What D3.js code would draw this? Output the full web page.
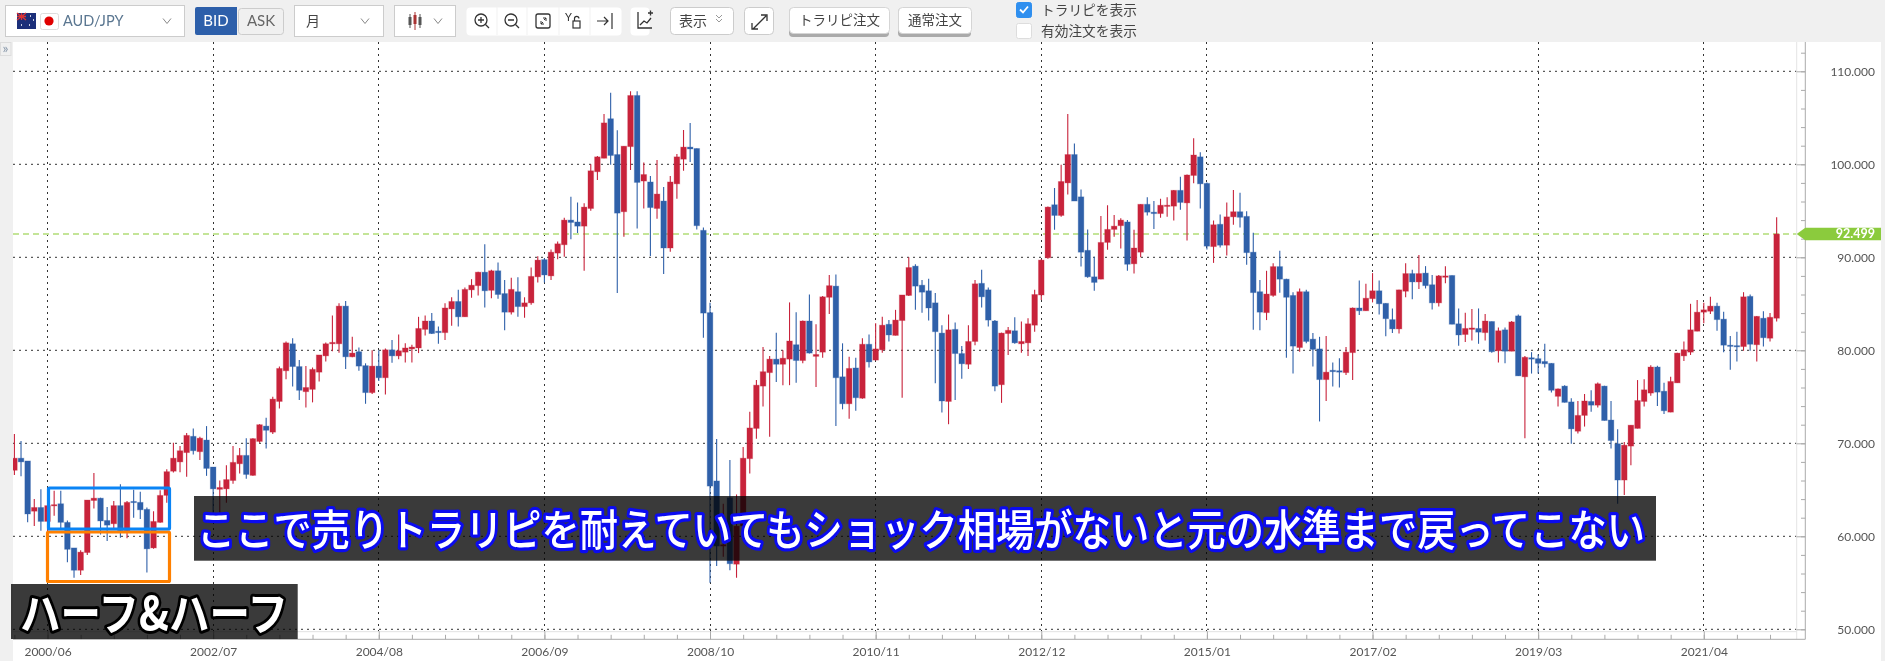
<!DOCTYPE html>
<html><head><meta charset="utf-8">
<script src="https://cdn.jsdelivr.net/npm/d3@7"></script>
<style>
html,body{margin:0;padding:0;background:#fff;overflow:hidden}
svg{display:block}
.ui{font-family:"Noto Sans CJK JP","Noto Sans",sans-serif;fill:#444}
.axis text{font-family:Lato,sans-serif;font-size:12px;fill:#555}
.axis path,.axis line{stroke:#aaa}
</style></head><body>
<svg id="c" width="1885" height="661"></svg>
<script>
const xLabels=["2000/06","2002/07","2004/08","2006/09","2008/10","2010/11","2012/12","2015/01","2017/02","2019/03","2021/04"];
const yLabels=[50,60,70,80,90,100,110];
const lastPrice=92.499;
const captionMain="ここで売りトラリピを耐えていてもショック相場がないと元の水準まで戻ってこない";
const captionSub="ハーフ&ハーフ";
// monthly candles 2000/01 - 2022/03
const opens=[67.1,68.4,68.1,62.7,63.1,61.6,63.3,63.5,61.5,58.75,56.35,58.25,63.85,64.1,61.7,61.35,63.3,60.6,63.75,63.65,62.9,58.75,61.5,64.4,67,68,69,70.75,69.1,70.35,67.45,65.05,65.1,66,67.8,68.7,66.55,70.2,71.85,71.2,74.5,77.8,80.7,78.25,75.55,75.8,77.65,79.4,80.7,80.7,84.75,79.3,79.85,78.35,75.45,78.3,77.05,80.05,79.4,79.8,80.15,80.25,82.25,83.15,82.05,81.9,84.45,85.25,83.6,86.5,86.95,88.4,86.45,88.55,86.1,84.1,86.3,84.7,85.1,87.9,89.75,88,90.45,91.35,94,93.8,93.35,95.25,99.2,100.65,104.9,101.05,94.9,101.9,107.4,98.2,98.1,95.25,96.05,91,97.9,100.55,101.85,101.7,92.9,84.05,65.95,58.95,64.15,57,61.1,68.35,71.6,76.15,77.6,79.05,78.5,79.05,80.6,78.9,83.15,79.35,79.8,85.7,86.9,77.15,74.25,78.1,74.85,80.65,78.95,80.05,82.8,81.6,83.2,85.9,89.05,87,86.4,85.1,81.85,74.5,82.25,79.65,78.5,80.95,87.2,86.5,83.15,76.3,81.8,82.1,80.7,80.8,82.7,85.95,89.95,95.65,94.5,98,101.05,96.5,90.75,87.9,87.65,91.6,93,93.4,93.8,89.3,90.55,95.7,94.85,94.7,95.5,95.5,97.2,95.85,98.8,100.8,97.95,91.15,93.55,91.3,94.35,94.9,94.4,90.55,86.3,84.05,85.9,89,87.65,85.9,80.3,86.3,81.2,80.15,76.85,77.85,77.8,77.6,79.75,84.55,84.25,85.55,86.4,85.05,83.3,82.3,86.35,88.25,87.35,88.3,87.05,85.1,87.85,88.05,82.85,81.7,82.25,82.35,81.9,83.1,79.95,82.2,79.9,83.7,77.15,79.2,79.1,78.8,78.6,75.05,76.15,74.45,71.3,73,74.5,74.1,76.15,72.5,69.95,66.05,69.7,71.6,74.5,75.4,78.2,75.6,73.35,76.5,79.4,79.8,82.05,84.1,84.2,84.75,83.35,80.55,80.5,80.4,85.8,80.6,83.45,81.3,83.45];
const highs=[71,70.25,68.1,64,65.05,63.4,64.9,64.9,61.7,58.75,58.5,63.9,66.8,64.15,63.15,63.8,65.6,63.8,65,64.8,63.1,62.7,64.95,67.2,70.05,69.7,71.1,71.6,70.7,71.85,67.45,66,67.65,69.7,69.5,70.55,70.55,72.05,72.75,75,78.25,80.95,81.3,78.95,78.3,78.15,79.5,80.85,83.75,85.05,85.3,81.45,80.3,78.6,80,80,80.2,81.1,81.7,80.75,80.6,83.6,83.75,84,82.55,85.05,85.7,86.5,86.75,87.65,88.45,91.4,88.65,89.45,87.55,87.8,87.85,85.7,88.9,90.1,89.9,90.85,91.7,94.25,96.5,95.9,95.8,100,100.9,105.4,107.7,103.65,101.95,107.85,107.85,100.2,98.75,100.45,97.55,98.75,101.1,103.7,104.45,101.7,93.2,85.1,70.45,63.5,68.2,64.5,69.6,73.4,76.8,80.35,79.4,81.9,80,85.15,84.1,83.2,86,82.8,85.85,88.1,88.15,80.75,79.3,79.2,81.3,81.7,82.9,83.6,83.25,84.35,85.95,90,89.25,87.55,87.7,86.15,82.7,83.85,83,80.45,82.7,87.55,88.65,86.75,83.25,81.9,82.5,83.55,83.1,83.45,86.5,89.8,95.45,97.45,99.95,105.4,102.25,97.3,93,90.05,94.45,95.6,94.55,94.2,94,92.95,95.7,96.45,96.05,96.3,96.45,97.25,98.65,98.9,102.8,101.3,98.05,93.95,94.6,95.9,97.25,96.95,94.95,92.65,87.55,88.55,89.35,90.7,87.7,86.25,86.65,86.5,81.85,81.45,81.55,78.7,79.15,80.35,84.6,87.5,87.15,88.3,87.5,85.05,84.5,86.5,89.35,88.65,90.25,89.05,88.1,88.1,89.05,88.05,84.5,84.05,84.45,84.5,83.9,83.1,82.45,82.45,83.15,83.85,79.4,79.8,79.55,80.7,78.6,75.9,76.25,74.85,74.55,75.3,75.7,76.55,76.2,74.55,71.5,70.15,71.95,76.8,76.9,78.4,78.35,76.5,77.15,79.75,80.95,85,85.4,85.1,85.75,85.1,84.15,81.55,82,86.25,86,83.7,84.2,84,94.3];
const lows=[66.6,66.45,61.5,61.1,60.6,60.5,62.2,60.75,57.2,55.55,55.85,58,63,60.2,59.5,60.75,59.85,59.8,62,61.85,56.1,58.65,61.45,63.6,66.85,66.9,66.4,68.8,68.2,66.5,62.4,62.55,63.6,65.65,66.75,66.2,66.5,70.05,69.45,71,73.75,76.9,76.1,74.65,73.85,74.4,76.65,78.8,79.9,79.75,78,79.25,77.8,74.25,75.3,76.7,75.25,78.65,79.05,78.7,78.7,79.7,81.6,81.75,80.7,81.1,82.65,82.55,83.6,85.65,85.9,84.6,85.6,85.55,82.15,83.85,83.6,83.5,84.9,87.3,87.3,87.55,89.8,90.05,91.95,92.6,88.55,95,98.3,100.65,99.95,86.15,92.2,99.4,93.1,95.25,90.15,94.15,88.2,90.6,96.3,99.3,100.25,93,81.35,55,56.8,57.8,56.35,55.55,61.1,66.75,70.5,73.95,70.7,76.6,76.25,76.25,76.5,78.6,79.65,76.05,79.2,83.9,71.85,73.65,72.65,73.5,74.8,78.15,78.9,79.75,80.95,81.6,74.9,85.85,84.35,84.05,83.2,76.45,73.3,72.05,74.65,76.95,78,80.55,84.6,82.55,75.6,74.35,79.5,80.7,79.75,79.4,82,85.4,89.85,92.95,94.35,96.75,96.05,89,87.8,86.4,87.65,90.8,92.2,90.95,88.55,88.25,90,94.5,93.05,94.25,94.35,93.95,95.1,91.8,97.95,95.25,90.85,89.4,91.05,90.2,93.5,93.2,89.2,82.2,82.15,83.25,85.75,86.2,79.2,77.5,79.85,80.75,78.25,72.35,74.55,76.1,76,77.35,76.8,83.8,84.25,85.15,83.85,81.5,81.85,81.8,85.7,85.5,86.6,86.65,84.4,84.7,87.2,82.8,80.5,80.9,81.05,80.7,81.05,79.75,78.7,78.6,79.9,77.25,70.55,77.5,77.5,78.15,75.45,73.95,74.4,69.95,71.05,71.8,73.4,73.85,72.45,69.45,63.5,64.45,67.65,71.6,73.95,75.1,74,73.15,73.35,76.5,78.85,79.5,82.05,82.9,83.9,82.1,79.8,77.9,78.8,79.95,79.95,78.8,80.4,80.95,83.1];
const closes=[68.4,68,62.4,63.1,61.6,63.3,63.4,61.5,58.6,56.35,58.3,63.9,64.1,61.65,61.2,63.3,60.6,63.65,63.65,62.85,58.65,61.6,64.4,66.95,68.4,69.2,70.85,69.2,70.55,67.3,65.1,65.25,66.1,67.95,68.7,66.65,70.5,72,71.4,74.75,78.05,80.8,78.25,75.7,76,77.95,79.5,80.7,80.85,84.75,79.3,79.7,78.3,75.45,78.3,77.05,80.05,79.4,79.95,80.25,80.35,82.35,83.15,81.8,81.9,84.55,85.25,83.6,86.55,87,88.4,86.4,88.55,86,84.1,86.55,84.7,85.1,87.95,89.7,88.1,90.55,91.45,94,93.75,93.35,95.4,99.3,100.8,104.45,100.95,94.75,101.95,107.4,98.05,98.9,95.35,96.8,91,98.1,100.8,101.85,101.65,93.4,84,65.4,58.95,59.1,57.05,61.1,68.4,71.65,76.25,77.7,79.05,78.5,79.15,81,78.9,83.15,79.7,79.55,85.75,86.95,77.05,74.25,78.05,74.9,80.65,78.75,80.15,82.7,81.65,83.25,85.95,88.9,86.9,86.25,84.55,82,74.55,82.2,79.65,78.55,80.95,87.15,85.75,83.25,76.15,81.85,82.15,80.8,80.95,82.85,86,89.7,95.4,94.5,98.15,101.05,96.05,90.55,87.9,87.3,91.6,93,93.35,94,89.25,91,95.7,94.85,94.7,95.6,95.6,97.2,95.9,98.85,101,97.9,91.2,93.5,91.3,94.35,94.9,94.3,90.5,86.2,84.1,86.05,89,87.65,85.7,80.45,86.3,80.95,80.1,76.85,77.65,77.7,77.65,79.8,84.55,84.25,85.6,86.4,85,83.4,82.3,86.5,88.25,87.35,88.25,86.95,85.1,88,88,82.8,81.65,82.35,82.4,81.95,83.15,79.85,82.1,79.9,83.05,77.25,79.25,79.05,78.6,78.55,75.7,75.85,74.4,71.55,73,74.55,74.1,76.4,72.45,70.3,66.05,69.8,71.95,74.6,75.75,78.2,75.5,73.5,76.65,79.7,80.05,82.2,84.1,84.35,84.75,83.3,80.55,80.45,80.4,85.75,80.65,83.65,81.35,83.55,92.499];

const W=1885,H=661,L=13,R=1796.7,T=42,AX=639.3;
const svg=d3.select("#c");
const x=d3.scaleLinear().domain([0,266]).range([14.4,1776.65]);
const y=d3.scaleLinear().domain([50,110]).range([629.3,71.3]);
const majorIdx=xLabels.map((_,i)=>5+i*25);
const minorIdx=d3.range(0,266,5);

// page
svg.append("rect").attr("width",W).attr("height",H).attr("fill","#fff");
svg.append("rect").attr("width",W).attr("height",T).attr("fill","#f0f0f0");
svg.append("rect").attr("y",T).attr("width",L).attr("height",H-T).attr("fill","#f0f0f0");
svg.append("rect").attr("x",1881).attr("y",T).attr("width",4).attr("height",H-T).attr("fill","#f0f0f0");
svg.append("rect").attr("x",0.5).attr("y",T+.5).attr("width",10.5).attr("height",13).attr("fill","#f0f0f0").attr("stroke","#ddd");
svg.append("text").attr("x",5.5).attr("y",T+11).attr("text-anchor","middle").attr("font-size",14).attr("fill","#8a9aac").attr("font-family","Lato").text("»");

const plot=svg.append("g");
// grid
const grid=plot.append("g").attr("stroke","#333").attr("stroke-dasharray","2 4");
grid.selectAll("line.h").data(yLabels).join("line").attr("class","h")
  .attr("x1",L).attr("x2",R).attr("y1",d=>Math.round(y(d))+.3).attr("y2",d=>Math.round(y(d))+.3);
grid.selectAll("line.v").data(majorIdx).join("line").attr("class","v")
  .attr("x1",d=>Math.round(x(d)-.5)+.5).attr("x2",d=>Math.round(x(d)-.5)+.5).attr("y1",T).attr("y2",AX-8);
// frame lines
svg.append("line").attr("x1",R).attr("x2",R).attr("y1",T).attr("y2",AX).attr("stroke","#e4e4e4");
svg.append("line").attr("x1",L).attr("x2",R).attr("y1",631.7).attr("y2",631.7).attr("stroke","#e2e2e2");
// last price line
plot.append("line").attr("x1",L).attr("x2",R).attr("y1",y(lastPrice)).attr("y2",y(lastPrice))
  .attr("stroke","#c4e598").attr("stroke-width",2).attr("stroke-dasharray","6 4");

// candles
svg.append("clipPath").attr("id","pc").append("rect").attr("x",L).attr("y",T).attr("width",R-L).attr("height",AX-T);
const RED="#c8233b",BLUE="#2f60a9",data=d3.range(opens.length);
const col=i=>closes[i]>=opens[i]?RED:BLUE;
const cg=plot.append("g").attr("clip-path","url(#pc)");
cg.selectAll("line.w").data(data).join("line").attr("class","w")
  .attr("x1",x).attr("x2",x).attr("y1",i=>y(highs[i])).attr("y2",i=>y(lows[i]))
  .attr("stroke",col).attr("stroke-width",1.1);
cg.selectAll("rect.b").data(data).join("rect").attr("class","b")
  .attr("x",i=>x(i)-2.8).attr("width",5.6)
  .attr("y",i=>y(Math.max(opens[i],closes[i])))
  .attr("height",i=>Math.max(1.2,Math.abs(y(opens[i])-y(closes[i]))))
  .attr("fill",col).attr("stroke",col).attr("stroke-opacity",.3).attr("stroke-width",1);

// axes
const yMinor=d3.range(50,114,2);
const ya=svg.append("g").attr("class","axis").attr("transform","translate(1805.3,0)");
ya.call(d3.axisLeft(y).tickValues(yMinor).tickSize(4.3).tickFormat(""));
ya.select(".domain").remove();
const yb=svg.append("g").attr("class","axis").attr("transform","translate(1805.3,0)");
yb.call(d3.axisLeft(y).tickValues(yLabels).tickSize(8.6).tickFormat(""));
yb.select(".domain").remove();
const yc=svg.append("g").attr("class","axis").attr("transform","translate(1805.3,0)");
yc.call(d3.axisRight(y).tickValues(yLabels).tickSize(0).tickPadding(69.7).tickFormat(d3.format(".3f")));
yc.select(".domain").remove();
yc.selectAll("text").attr("text-anchor","end");
svg.append("line").attr("x1",1805.3).attr("x2",1805.3).attr("y1",T).attr("y2",AX).attr("stroke","#aaa");

const xa=svg.append("g").attr("class","axis").attr("transform",`translate(0,${AX})`);
xa.call(d3.axisTop(x).tickValues(minorIdx).tickSize(4.5).tickFormat(""));
xa.select(".domain").remove();
const xb=svg.append("g").attr("class","axis").attr("transform",`translate(0,${AX})`);
xb.call(d3.axisTop(x).tickValues(majorIdx).tickSize(8).tickFormat(""));
xb.select(".domain").remove();
const xc=svg.append("g").attr("class","axis").attr("transform",`translate(0,${AX})`);
xc.call(d3.axisBottom(x).tickValues(majorIdx).tickSize(0).tickPadding(8).tickFormat((d,i)=>xLabels[i]));
xc.select(".domain").remove();
svg.append("line").attr("x1",L).attr("x2",1805.3).attr("y1",AX).attr("y2",AX).attr("stroke","#aaa");

// price tag
const py=y(lastPrice);
svg.append("polygon").attr("fill","#8bcb3d")
  .attr("points",[[R,py],[1805.3,py-6.3],[1881,py-6.3],[1881,py+6.3],[1805.3,py+6.3]].join(" "));
svg.append("text").attr("x",1875).attr("y",py+4.4).attr("text-anchor","end").attr("font-family","Lato")
  .attr("font-size",12.5).attr("font-weight",700).attr("fill","#fff").text(d3.format(".3f")(lastPrice));

// overlays
svg.append("rect").attr("x",47.5).attr("y",532).attr("width",122).attr("height",49.5).attr("rx",1).attr("fill","none").attr("stroke","#ff8000").attr("stroke-width",3.2);
svg.append("rect").attr("x",48.5).attr("y",488).attr("width",121).attr("height",41).attr("rx",1).attr("fill","none").attr("stroke","#0a84f5").attr("stroke-width",3.2);
svg.append("rect").attr("x",194).attr("y",496).attr("width",1462).attr("height",64.7).attr("fill","#3a3a3a").style("mix-blend-mode","multiply");
svg.append("rect").attr("x",11).attr("y",584).attr("width",286.7).attr("height",55).attr("fill","#3a3a3a").style("mix-blend-mode","multiply");
svg.append("text").attr("x",197).attr("y",546).attr("textLength",1448).attr("lengthAdjust","spacingAndGlyphs")
  .attr("font-family","Noto Sans CJK JP").attr("font-weight",500).attr("font-size",43).attr("fill","#fff")
  .attr("stroke","#0b0bf0").attr("stroke-width",6.5).attr("stroke-linejoin","round").attr("paint-order","stroke").text(captionMain);
svg.append("text").attr("x",20).attr("y",630).attr("textLength",268).attr("lengthAdjust","spacingAndGlyphs")
  .attr("font-family","Noto Sans CJK JP").attr("font-weight",700).attr("font-size",46).attr("fill","#fff")
  .attr("stroke","#000").attr("stroke-width",6).attr("stroke-linejoin","round").attr("paint-order","stroke").text(captionSub);

// toolbar
const ui=svg.append("g");
const box=(a,b,w,h,o={})=>ui.append("rect").attr("x",a+.5).attr("y",b+.5).attr("width",w).attr("height",h).attr("rx",o.r||0)
  .attr("fill",o.f||"#fff").attr("stroke",o.s||"#ccc").attr("stroke-width",o.sw===undefined?1:o.sw);
const label=(t,a,b,o={})=>ui.append("text").attr("class","ui").attr("x",a).attr("y",b).attr("font-size",o.z||13)
  .attr("text-anchor",o.a||"start").style("fill",o.f||"#444").style("font-family",o.ff||null).text(t);
const chev=(a,b)=>ui.append("path").attr("d",`M${a-4} ${b-2.5}L${a} ${b+2.5}L${a+4} ${b-2.5}`).attr("fill","none").attr("stroke","#888");
box(5,5,179,31);
ui.append("rect").attr("x",17).attr("y",13).attr("width",19).attr("height",16).attr("fill","#1b2f7a");
ui.append("path").attr("d","M17 13L26 20M26 13L17 20M21.5 13V20M17 16.5H26").attr("stroke","#d33").attr("stroke-width",1.3);
ui.append("path").attr("d","M21 25h1M30 16h1M33 20h1M29 25h1").attr("stroke","#fff").attr("stroke-width",1.5);
box(40,13,18,16,{r:2,f:"#fff",s:"#ddd"});
ui.append("circle").attr("cx",49).attr("cy",21).attr("r",4.6).attr("fill","#e00000");
label("AUD/JPY",63,26,{z:14.5,f:"#5a7690",ff:"Lato"});
chev(167,21);
ui.append("path").attr("d","M197 7h40v28h-40q-2 0-2-2v-24q0-2 2-2z").attr("fill","#2d5faa");
label("BID",216,26,{z:15,f:"#fff",a:"middle",ff:"Lato"});
box(238,8,45,26,{r:3,f:"#f0f0f0",s:"#ccc"});
label("ASK",261,26,{z:15,f:"#666",a:"middle",ff:"Lato"});
box(294,5,89,31);label("月",306,26,{z:14});chev(365,21);
box(394,5,61,31);
[[410,14,28,17,25,"#555"],[415,12,30,15,24,"#a33"],[420,14,28,17,25,"#555"]].forEach(d=>{
 ui.append("line").attr("x1",d[0]).attr("x2",d[0]).attr("y1",d[1]).attr("y2",d[2]).attr("stroke",d[5]);
 ui.append("rect").attr("x",d[0]-1.5).attr("y",d[3]).attr("width",3).attr("height",d[4]-d[3]).attr("fill",d[5]);});
chev(438,21);
box(466,7,155,28,{r:4,s:"none",sw:0});
[512,542,574,605].forEach(a=>ui.append("line").attr("x1",a-15).attr("x2",a-15).attr("y1",7).attr("y2",35).attr("stroke","#f1f1f1"));
const glass=(a,s)=>{ui.append("circle").attr("cx",a).attr("cy",20).attr("r",6).attr("fill","none").attr("stroke","#333").attr("stroke-width",1.3);
 ui.append("path").attr("d",`M${a+4.5} 24.5L${a+8} 28M${a-3} 20H${a+3}${s?`M${a} 17V23`:""}`).attr("stroke","#333").attr("stroke-width",1.3);};
glass(481,true);glass(511,false);
ui.append("rect").attr("x",536).attr("y",14).attr("width",14).attr("height",14).attr("rx",2).attr("fill","none").attr("stroke","#333").attr("stroke-width",1.3);
ui.append("path").attr("d","M541 24l2-2M546 18l-2 2M541 21v3h3M546 21v-3h-3").attr("fill","none").attr("stroke","#333");
label("Y",565,21,{z:11,f:"#333",ff:"Lato"});
ui.append("rect").attr("x",573).attr("y",21).attr("width",7).attr("height",7).attr("fill","none").attr("stroke","#333").attr("stroke-width",1.2);
ui.append("path").attr("d","M574.5 21v-2.5a2.2 2.2 0 0 1 4.4 0").attr("fill","none").attr("stroke","#333").attr("stroke-width",1.2);
ui.append("path").attr("d","M597 21H608M604 17l4 4l-4 4M612 13V29").attr("fill","none").attr("stroke","#333").attr("stroke-width",1.2);
box(630,7,19,28,{r:4,s:"none",sw:0});
ui.append("path").attr("d","M638 12V28H652M640 25l4-4l3 2l4-5").attr("fill","none").attr("stroke","#333").attr("stroke-width",1.3);
ui.append("path").attr("d","M648 13h5M650.5 10.5v5").attr("stroke","#333").attr("stroke-width",1.3);
box(670,7,63,27,{r:4});label("表示",679,26,{z:14});
ui.append("path").attr("d","M716 15l3 3l3-3M716 19l3 3l3-3").attr("fill","none").attr("stroke","#999");
box(744,7,29,27,{r:4});
ui.append("path").attr("d","M753 29l13-13M761 15h6v6M752 23v6h6").attr("fill","none").attr("stroke","#333").attr("stroke-width",1.3);
[[789,100,"トラリピ注文"],[898,73,"通常注文"]].forEach(d=>{
 ui.append("rect").attr("x",d[0]).attr("y",8).attr("width",d[1]).attr("height",29).attr("rx",4).attr("fill","#aaa");
 box(d[0],7,d[1],26,{r:4,s:"#d5d5d5"});
 label(d[2],d[0]+d[1]/2+.5,25,{z:13.5,a:"middle"});});
box(1016,2,15,15,{r:2,f:"#2f8fef",s:"#2f8fef"});
ui.append("path").attr("d","M1020 9.5l3 3l5-6").attr("fill","none").attr("stroke","#fff").attr("stroke-width",1.8);
label("トラリピを表示",1041,15,{z:13.7});
box(1016,23,15,15,{r:2,s:"#ddd"});
label("有効注文を表示",1041,36,{z:13.7});
</script>
</body></html>
